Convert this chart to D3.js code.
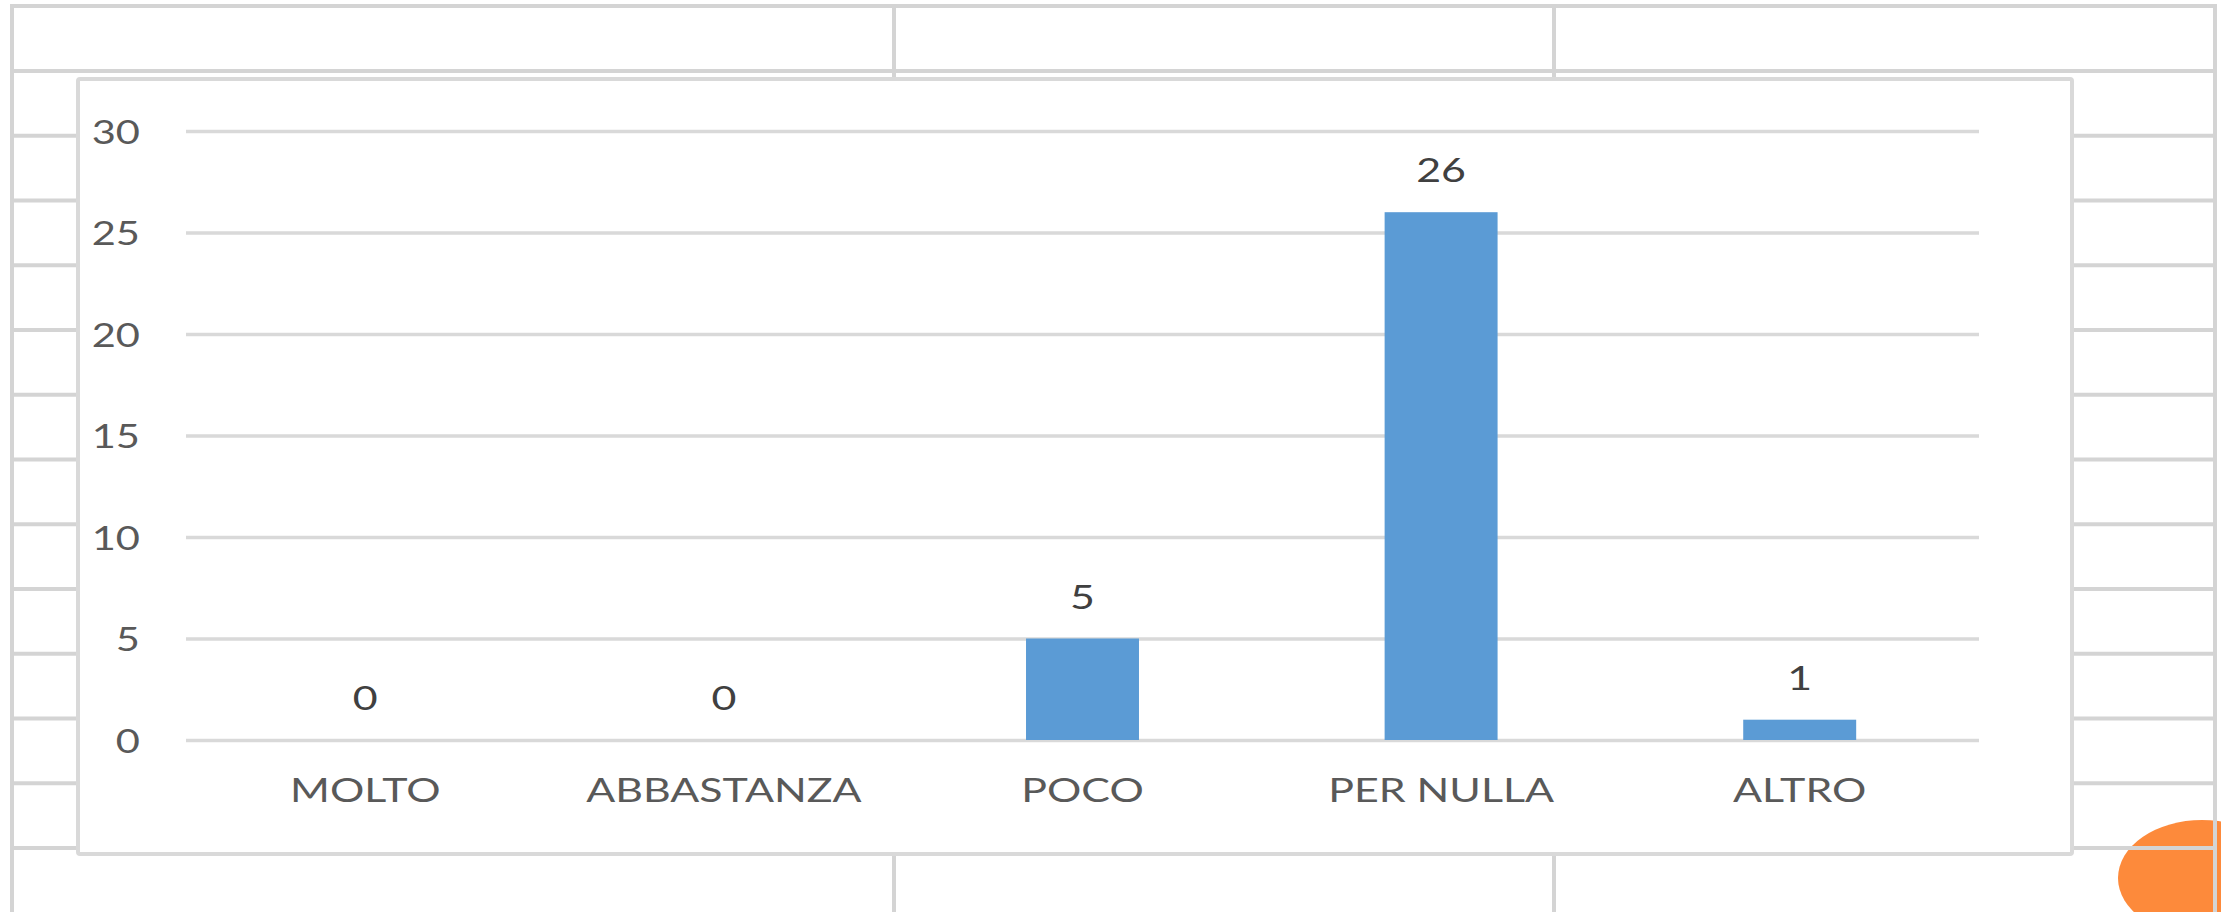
<!DOCTYPE html>
<html>
<head>
<meta charset="utf-8">
<script src="https://cdn.jsdelivr.net/npm/d3@7"></script>
<style>
html,body{margin:0;padding:0;background:#fff;overflow:hidden;}
svg{display:block;}
</style>
</head>
<body>
<script>
// ---- data ----
const categories = ["MOLTO", "ABBASTANZA", "POCO", "PER NULLA", "ALTRO"];
const values = [0, 0, 5, 26, 1];
const yTicks = [0, 5, 10, 15, 20, 25, 30];

// ---- layout ----
const W = 2221, H = 912;
const FONT = "Lato, 'Open Sans', 'Liberation Sans', sans-serif";
const SX = 1.3; // horizontal stretch of text as in the reference

const svg = d3.select("body").append("svg").attr("width", W).attr("height", H);

// background decoration: orange ellipse behind the sheet grid
svg.append("ellipse").attr("cx", 2202).attr("cy", 878).attr("rx", 84).attr("ry", 58)
  .attr("fill", "#FD8A3B");

// sheet-like grid behind the chart
const sheet = svg.append("g").attr("stroke", "#d4d4d4").attr("stroke-width", 4);
const rowYs = d3.range(14).map(i => 6 + i * 64.75 + (i > 0 ? 0.25 : 0));
rowYs.forEach(yy => sheet.append("line").attr("x1", 12).attr("x2", 2215).attr("y1", yy).attr("y2", yy));
[12, 894, 1554, 2215].forEach(xx => sheet.append("line").attr("x1", xx).attr("x2", xx).attr("y1", 4).attr("y2", 912));

// chart frame
svg.append("rect").attr("x", 78).attr("y", 79).attr("width", 1994).attr("height", 775)
  .attr("rx", 2).attr("fill", "#fff").attr("stroke", "#d9d9d9").attr("stroke-width", 4);

// scales
const x = d3.scaleBand().domain(categories).range([186, 1979])
  .paddingInner(0.685).paddingOuter(0.3425);
const y = d3.scaleLinear().domain([0, 30]).range([740, 131]);

// gridlines
const grid = svg.append("g").attr("transform", "translate(186,0)")
  .call(d3.axisLeft(y).tickValues(yTicks).tickSize(-(1979 - 186)).tickFormat(""));
grid.select(".domain").remove();
grid.selectAll(".tick line").attr("stroke", "#d9d9d9").attr("stroke-width", 3.5);

// y labels
const yAxis = svg.append("g").attr("transform", "translate(140,0)")
  .call(d3.axisLeft(y).tickValues(yTicks).tickSize(0).tickPadding(0));
yAxis.select(".domain").remove();
yAxis.selectAll(".tick text")
  .attr("x", null).attr("dy", null).attr("y", null)
  .attr("transform", "translate(0,12) scale(" + SX + ",1)")
  .attr("text-anchor", "end")
  .attr("font-family", FONT).attr("font-size", 32).attr("fill", "#595959");

// bars
svg.append("g").selectAll("rect").data(values).join("rect")
  .attr("x", (d, i) => x(categories[i]))
  .attr("width", x.bandwidth())
  .attr("y", d => y(d))
  .attr("height", d => y(0) - y(d))
  .attr("fill", "#5B9BD5");

// value labels
svg.append("g").selectAll("text").data(values).join("text")
  .attr("transform", (d, i) => "translate(" + (x(categories[i]) + x.bandwidth() / 2) + "," + (y(d) - 30) + ") scale(" + SX + ",1)")
  .attr("text-anchor", "middle")
  .attr("font-family", FONT).attr("font-size", 33).attr("fill", "#404040")
  .text(d => d);

// category labels
const xAxis = svg.append("g").attr("transform", "translate(0,802)")
  .call(d3.axisBottom(x).tickSize(0).tickPadding(0));
xAxis.select(".domain").remove();
xAxis.selectAll(".tick text")
  .attr("y", null).attr("dy", null)
  .attr("transform", "scale(" + SX + ",1)")
  .attr("text-anchor", "middle")
  .attr("font-family", FONT).attr("font-size", 33).attr("fill", "#595959");
</script>
</body>
</html>
